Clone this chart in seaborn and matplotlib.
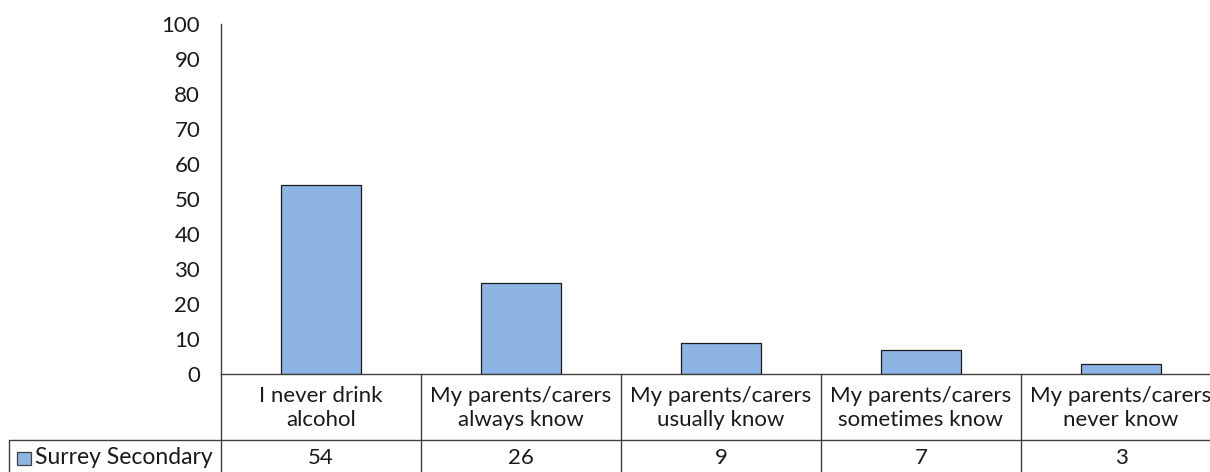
import matplotlib
matplotlib.use("Agg")
import matplotlib.pyplot as plt
import seaborn as sns
import pandas as pd
from matplotlib.lines import Line2D
from matplotlib.patches import Rectangle

categories = ["I never drink\nalcohol", "My parents/carers\nalways know", "My parents/carers\nusually know",
              "My parents/carers\nsometimes know", "My parents/carers\nnever know"]
values = [54, 26, 9, 7, 3]
series_name = "Surrey Secondary"
yticks = [0, 10, 20, 30, 40, 50, 60, 70, 80, 90, 100]

sns.set_style("white")
plt.rcParams['font.family'] = ['Lato', 'DejaVu Sans']

W, H = 1210, 472
fig = plt.figure(figsize=(W / 100, H / 100), dpi=100)
x0, x1, y0, y1 = 221, 1221, 374, 24
ax = fig.add_axes([x0 / W, 1 - y0 / H, (x1 - x0) / W, (y0 - y1) / H])

df = pd.DataFrame({"cat": categories, "val": values})
sns.barplot(data=df, x="cat", y="val", ax=ax, color="#8EB4E3", saturation=1,
            edgecolor="#1a1a1a", linewidth=0.9, width=0.4)

ax.set_ylim(0, 100)
ax.set_xlim(-0.5, len(categories) - 0.5)
ax.set_yticks(yticks)
ax.set_yticklabels([str(t) for t in yticks], fontsize=16, color="#1a1a1a")
ax.tick_params(axis="y", length=0, pad=15)
ax.set_xticks([])
ax.set_xlabel("")
ax.set_ylabel("")
for s in ["top", "right"]:
    ax.spines[s].set_visible(False)
for s in ["left", "bottom"]:
    ax.spines[s].set_color("#404040")
    ax.spines[s].set_linewidth(1.0)

ph = y0 - y1
pw = x1 - x0
def ay(py):
    return (y0 - py) / ph

row1_bot = ay(440)
row2_bot = ay(480)
left_x = -0.5 + (9 - x0) / pw * len(categories)
tr = ax.get_xaxis_transform()
lc = "#404040"

# horizontal line between rows
ax.add_line(Line2D([left_x, len(categories) - 0.5], [row1_bot, row1_bot], transform=tr,
                   color=lc, lw=1.0, clip_on=False))
# vertical dividers
for i in range(len(categories)):
    xv = i - 0.5
    ax.add_line(Line2D([xv, xv], [row2_bot, 0], transform=tr, color=lc, lw=1.0, clip_on=False))
ax.add_line(Line2D([left_x, left_x], [row2_bot, row1_bot], transform=tr, color=lc, lw=1.0, clip_on=False))

for i, (c, v) in enumerate(zip(categories, values)):
    ax.text(i, ay(408), c, transform=tr, ha="center", va="center", fontsize=16,
            color="#1a1a1a", linespacing=1.31, clip_on=False)
    ax.text(i, ay(458), str(v), transform=tr, ha="center", va="center", fontsize=16,
            color="#1a1a1a", clip_on=False)

# legend key + series name
fig.add_artist(Rectangle((17 / W, 1 - 465 / H), 14 / W, 13 / H, transform=fig.transFigure,
                         facecolor="#8EB4E3", edgecolor="#404040", lw=0.9))
fig.text(35 / W, 1 - 458 / H, series_name, ha="left", va="center", fontsize=16.5, color="#1a1a1a")

fig.savefig("out.png", dpi=100)
